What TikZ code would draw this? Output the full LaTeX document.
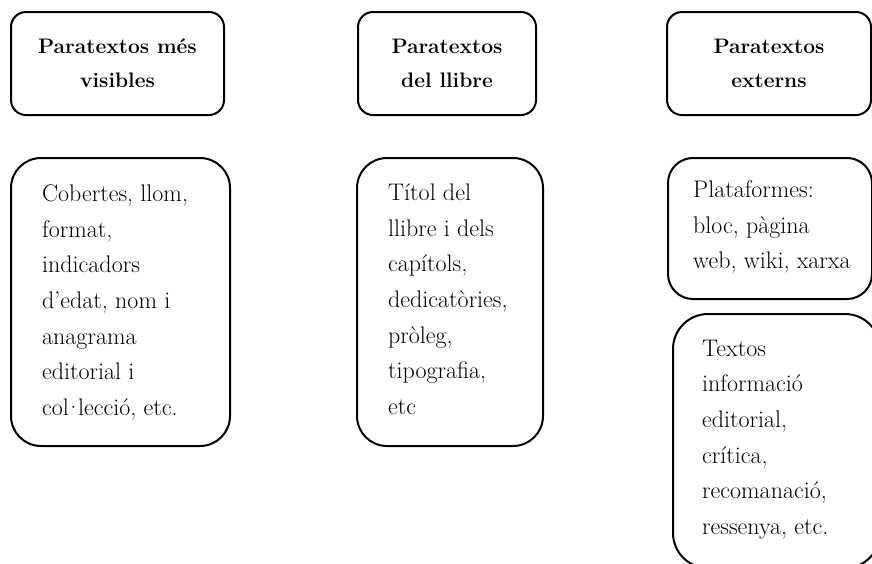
\documentclass[tikz,border=0pt]{standalone}
\usepackage{fontspec}
\usepackage{tikz}
\usetikzlibrary{positioning}

\begin{document}
\begin{tikzpicture}[x=1pt,y=-1pt,
  hbox/.style={draw=black,line width=2pt,rounded corners=15pt,anchor=north west,inner sep=0pt,align=center,font=\fontsize{21}{34}\selectfont\bfseries},
  lbox/.style={draw=black,line width=2pt,rounded corners=30pt,anchor=north west,inner sep=0pt},
  ltext/.style={anchor=north west,inner sep=0pt,align=left,font=\fontsize{24}{35.7}\selectfont}]
\useasboundingbox (0,0) rectangle (872,563);
\clip (0,0) rectangle (872,563);
\node[hbox,minimum width=213pt,minimum height=103pt] (H1) at (10,11) {Paratextos més\\visibles};
\node[hbox,minimum width=178pt,minimum height=103pt] (H2) at (357,11) {Paratextos\\del llibre};
\node[hbox,minimum width=204pt,minimum height=103pt] (H3) at (666,11) {Paratextos\\externs};

\node[lbox,minimum width=219pt,minimum height=288pt] (B1) at (10,157) {};
\node[lbox,minimum width=186pt,minimum height=288pt] (B2) at (356,157) {};
\node[lbox,minimum width=204pt,minimum height=141pt,rounded corners=25pt] (B3) at (667,157) {};
\node[lbox,minimum width=207pt,minimum height=254pt,rounded corners=35pt] (B4) at (672,313) {};

\node[ltext] (T1) at (42,184.5) {Cobertes, llom,\\format,\\indicadors\\d’edat, nom i\\anagrama\\editorial i\\col\kern-4pt·\kern-4pt lecció, etc.};
\node[ltext] (T2) at (388,183.5) {Títol del\\llibre i dels\\capítols,\\dedicatòries,\\pròleg,\\tipografia,\\etc};
\node[ltext] (T3) at (693,180.5) {Plataformes:\\bloc, pàgina\\web, wiki, xarxa};
\node[ltext] (T4) at (702,339.5) {Textos\\informació\\editorial,\\crítica,\\recomanació,\\ressenya, etc.};
\end{tikzpicture}
\end{document}
